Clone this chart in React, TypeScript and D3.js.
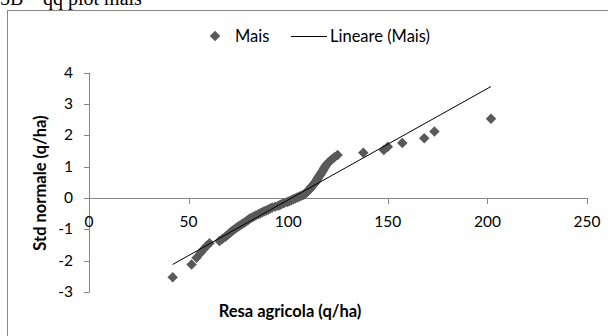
import React from "react";
import * as d3 from "d3";

const yields = [
  42, 51.5, 54, 56, 57.5, 59, 60.5, 65.5, 67, 68.5,
  69.5, 70.5, 71.5, 72.5, 73.5, 74.5, 75.5, 76.5, 77.5, 78.5,
  79.2, 80, 80.8, 81.8, 82.8, 83.8, 85, 86, 87, 88,
  89, 90, 91, 92, 93.5, 95, 96, 97, 98, 99.5,
  100.5, 101.5, 102.5, 103.5, 104.5, 105.5, 106.5, 107.5, 108.2, 108.8,
  109.3, 109.8, 110.2, 110.6, 111, 111.4, 111.8, 112.2, 112.6, 113,
  113.4, 113.8, 114.2, 114.5, 114.8, 115.1, 115.5, 115.9, 116.3, 116.7,
  117.1, 117.5, 117.9, 118.3, 118.7, 119.3, 120, 121, 122, 123.2,
  124.8, 137.7, 148, 150, 157.3, 168.3, 173.4, 201.8,
];

const normalScores = [
  -2.53, -2.12, -1.905, -1.753, -1.634, -1.534, -1.447, -1.371, -1.301, -1.237,
  -1.178, -1.123, -1.071, -1.022, -0.975, -0.931, -0.887, -0.846, -0.806, -0.767,
  -0.729, -0.693, -0.657, -0.622, -0.587, -0.554, -0.521, -0.489, -0.457, -0.426,
  -0.395, -0.364, -0.334, -0.304, -0.275, -0.245, -0.216, -0.187, -0.157, -0.128,
  -0.1, -0.071, -0.043, -0.014, 0.014, 0.043, 0.071, 0.1, 0.128, 0.157,
  0.187, 0.216, 0.245, 0.275, 0.304, 0.334, 0.364, 0.395, 0.426, 0.457,
  0.489, 0.521, 0.554, 0.587, 0.622, 0.657, 0.693, 0.729, 0.767, 0.806,
  0.846, 0.887, 0.931, 0.975, 1.022, 1.071, 1.123, 1.178, 1.237, 1.301,
  1.371, 1.447, 1.534, 1.634, 1.753, 1.905, 2.12, 2.53,
];

const trendSlope = 0.03554;
const trendIntercept = -3.613;

const xTicks = [0, 50, 100, 150, 200, 250];
const yTicks = [-3, -2, -1, 0, 1, 2, 3, 4];

const seriesName = "Mais";
const trendName = "Lineare (Mais)";
const xTitle = "Resa agricola (q/ha)";
const yTitle = "Std normale (q/ha)";

const W = 608;
const H = 336;
const FONT = "Lato, 'Liberation Sans', sans-serif";
const SERIF = "'Liberation Serif', 'Times New Roman', serif";
const AXIS = "#868686";
const MARK = "#595959";

export default function App() {
  const x = d3.scaleLinear().domain([0, 250]).range([89, 587]);
  const y = d3.scaleLinear().domain([-3, 4]).range([292, 72.7]);
  const diamond = d3.symbol().type(d3.symbolSquare).size(55)() as string;
  const xMin = d3.min(yields) as number;
  const xMax = d3.max(yields) as number;
  const line = d3.line<number>().x((v) => x(v)).y((v) => y(trendIntercept + trendSlope * v));

  return (
    <svg width={W} height={H} style={{ position: "absolute", left: 0, top: 0, background: "#fff" }}>
      <rect x={0} y={0} width={W} height={H} fill="#fff" />
      <text x={0} y={5} fontFamily={SERIF} fontSize={20} fill="#000">5B</text>
      <text x={26} y={5} fontFamily={SERIF} fontSize={20} fill="#000">–</text>
      <text x={43} y={5} fontFamily={SERIF} fontSize={20} fill="#000">qq plot mais</text>
      <rect x={7.5} y={10.5} width={700} height={400} fill="none" stroke="#868686" strokeWidth={1} />

      {/* y axis */}
      <line x1={x(0) + 0.5} x2={x(0) + 0.5} y1={y(4)} y2={y(-3)} stroke={AXIS} />
      {yTicks.map((t) => (
        <g key={"y" + t}>
          <line x1={x(0) - 5} x2={x(0) + 0.5} y1={Math.round(y(t)) + 0.5} y2={Math.round(y(t)) + 0.5} stroke={AXIS} />
          <text x={73} y={y(t) + 5} textAnchor="end" fontFamily={FONT} fontSize={15.5} fill="#000">{t}</text>
        </g>
      ))}
      {/* x axis */}
      <line x1={x(0)} x2={x(250)} y1={Math.round(y(0)) + 0.5} y2={Math.round(y(0)) + 0.5} stroke={AXIS} />
      {xTicks.map((t) => (
        <g key={"x" + t}>
          <line x1={Math.round(x(t)) + 0.5} x2={Math.round(x(t)) + 0.5} y1={y(0)} y2={y(0) + 6} stroke={AXIS} />
          <text x={x(t)} y={227} textAnchor="middle" fontFamily={FONT} fontSize={15.5} fill="#000">{t}</text>
        </g>
      ))}

      {/* points */}
      {yields.map((v, i) => (
        <path key={"p" + i} d={diamond} transform={`translate(${x(v)},${y(normalScores[i])}) rotate(45)`} fill={MARK} />
      ))}
      {/* trend */}
      <path d={line([xMin, xMax]) as string} stroke="#000" strokeWidth={1} fill="none" />

      {/* titles */}
      <text x={290} y={317} textAnchor="middle" fontFamily={FONT} fontWeight="bold" fontSize={16.5} fill="#000">{xTitle}</text>
      <text transform={`translate(46,183) rotate(-90)`} textAnchor="middle" fontFamily={FONT} fontWeight="bold" fontSize={16.5} fill="#000">{yTitle}</text>

      {/* legend */}
      <path d={diamond} transform="translate(215,36) rotate(45)" fill={MARK} />
      <text x={235} y={41.5} fontFamily={FONT} fontSize={16.5} fill="#000">{seriesName}</text>
      <line x1={291} x2={327} y1={36.5} y2={36.5} stroke="#000" />
      <text x={330} y={41.5} fontFamily={FONT} fontSize={16.5} fill="#000">{trendName}</text>
    </svg>
  );
}
